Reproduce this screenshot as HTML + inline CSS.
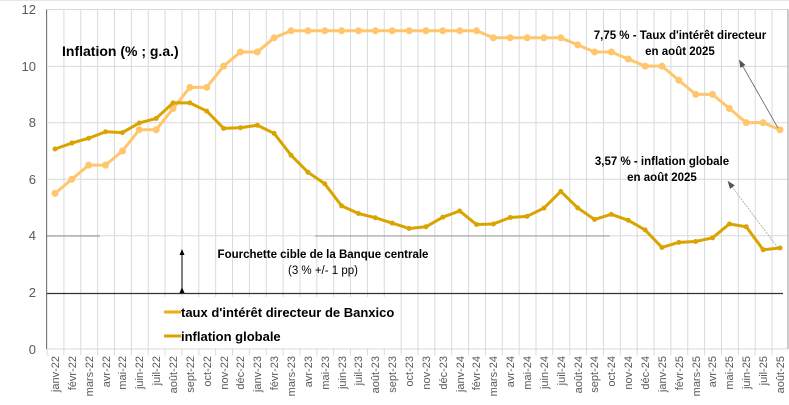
<!DOCTYPE html>
<html><head><meta charset="utf-8"><style>
html,body{margin:0;padding:0;background:#fff}
svg{display:block;font-family:"Liberation Sans",sans-serif}
</style></head><body>
<svg width="789" height="405" viewBox="0 0 789 405" xmlns="http://www.w3.org/2000/svg">
<defs>
<pattern id="vg" x="46.57" y="0" width="16.86" height="405" patternUnits="userSpaceOnUse">
<line x1="0.5" y1="0" x2="0.5" y2="405" stroke="#d9d9d9" stroke-width="1"/>
</pattern>
<marker id="ah" markerWidth="8" markerHeight="8" refX="4" refY="4" orient="auto" markerUnits="userSpaceOnUse"><path d="M0,1 L8,4 L0,7 z" fill="#555"/></marker>
<marker id="ah2" markerWidth="6" markerHeight="6" refX="3" refY="3" orient="auto" markerUnits="userSpaceOnUse"><path d="M0,0.5 L6,3 L0,5.5 z" fill="#000"/></marker>
</defs>
<rect x="0" y="0" width="789" height="405" fill="#fff"/>
<line x1="0" y1="0.5" x2="789" y2="0.5" stroke="#e6e6e6"/>
<rect x="46.5" y="9.5" width="741.5" height="346" fill="url(#vg)"/>
<g stroke="#d9d9d9" stroke-width="1">
<line x1="46.5" y1="9.5" x2="788" y2="9.5"/>
<line x1="46.5" y1="66.4" x2="788" y2="66.4"/>
<line x1="46.5" y1="122.8" x2="788" y2="122.8"/>
<line x1="46.5" y1="179.3" x2="788" y2="179.3"/>
<line x1="46.5" y1="235.8" x2="788" y2="235.8"/>
<line x1="46.5" y1="349" x2="788" y2="349"/>
</g>
<line x1="46.5" y1="236" x2="100" y2="236" stroke="#888"/>
<line x1="315" y1="236" x2="610" y2="236" stroke="#999"/>
<line x1="46.5" y1="293.5" x2="783" y2="293.5" stroke="#333" stroke-width="1.3"/>
<line x1="46.5" y1="9.5" x2="46.5" y2="349" stroke="#777"/>
<line x1="788" y1="9.5" x2="788" y2="349" stroke="#999"/>
<rect x="160" y="297" width="236" height="51" fill="#fff"/>
<g font-size="13" fill="#595959" text-anchor="end">
<text x="36" y="14">12</text><text x="36" y="71">10</text><text x="36" y="127">8</text>
<text x="36" y="184">6</text><text x="36" y="240">4</text><text x="36" y="297">2</text><text x="36" y="354">0</text>
</g>
<g transform="translate(55,349) scale(16.86,-28.29)" fill="none" stroke-linejoin="round">
<polyline vector-effect="non-scaling-stroke" stroke="#FFC66E" stroke-width="3" points="0,5.5 1,6 2,6.5 3,6.5 4,7 5,7.75 6,7.75 7,8.5 8,9.25 9,9.25 10,10 11,10.5 12,10.5 13,11 14,11.25 15,11.25 16,11.25 17,11.25 18,11.25 19,11.25 20,11.25 21,11.25 22,11.25 23,11.25 24,11.25 25,11.25 26,11 27,11 28,11 29,11 30,11 31,10.75 32,10.5 33,10.5 34,10.25 35,10 36,10 37,9.5 38,9 39,9 40,8.5 41,8 42,8 43,7.75"/>
<path vector-effect="non-scaling-stroke" stroke="#FFC66E" stroke-width="7" stroke-linecap="round" d="M0,5.5h0M1,6h0M2,6.5h0M3,6.5h0M4,7h0M5,7.75h0M6,7.75h0M7,8.5h0M8,9.25h0M9,9.25h0M10,10h0M11,10.5h0M12,10.5h0M13,11h0M14,11.25h0M15,11.25h0M16,11.25h0M17,11.25h0M18,11.25h0M19,11.25h0M20,11.25h0M21,11.25h0M22,11.25h0M23,11.25h0M24,11.25h0M25,11.25h0M26,11h0M27,11h0M28,11h0M29,11h0M30,11h0M31,10.75h0M32,10.5h0M33,10.5h0M34,10.25h0M35,10h0M36,10h0M37,9.5h0M38,9h0M39,9h0M40,8.5h0M41,8h0M42,8h0M43,7.75h0"/>
<polyline vector-effect="non-scaling-stroke" stroke="#D9A400" stroke-width="3" points="0,7.07 1,7.28 2,7.45 3,7.68 4,7.65 5,7.99 6,8.15 7,8.70 8,8.70 9,8.41 10,7.80 11,7.82 12,7.91 13,7.62 14,6.85 15,6.25 16,5.84 17,5.06 18,4.79 19,4.64 20,4.45 21,4.26 22,4.32 23,4.66 24,4.88 25,4.40 26,4.42 27,4.65 28,4.69 29,4.98 30,5.57 31,4.99 32,4.58 33,4.76 34,4.55 35,4.21 36,3.59 37,3.77 38,3.80 39,3.93 40,4.42 41,4.32 42,3.51 43,3.57"/>
<path vector-effect="non-scaling-stroke" stroke="#D9A400" stroke-width="5" stroke-linecap="round" d="M0,7.07h0M1,7.28h0M2,7.45h0M3,7.68h0M4,7.65h0M5,7.99h0M6,8.15h0M7,8.70h0M8,8.70h0M9,8.41h0M10,7.80h0M11,7.82h0M12,7.91h0M13,7.62h0M14,6.85h0M15,6.25h0M16,5.84h0M17,5.06h0M18,4.79h0M19,4.64h0M20,4.45h0M21,4.26h0M22,4.32h0M23,4.66h0M24,4.88h0M25,4.40h0M26,4.42h0M27,4.65h0M28,4.69h0M29,4.98h0M30,5.57h0M31,4.99h0M32,4.58h0M33,4.76h0M34,4.55h0M35,4.21h0M36,3.59h0M37,3.77h0M38,3.80h0M39,3.93h0M40,4.42h0M41,4.32h0M42,3.51h0M43,3.57h0"/>
</g>
<text x="62" y="56" font-size="14" font-weight="bold" fill="#000">Inflation (% ; g.a.)</text>
<g font-size="11.5" font-weight="bold" fill="#000" text-anchor="middle">
<text x="680" y="39">7,75 % - Taux d'intérêt directeur</text>
<text x="680" y="55">en août 2025</text>
<text x="662" y="165">3,57 % - inflation globale</text>
<text x="662" y="181">en août 2025</text>
<text x="323" y="258">Fourchette cible de la Banque centrale</text>
<text x="323" y="274" font-weight="normal">(3 % +/- 1 pp)</text>
</g>
<line x1="778" y1="128" x2="741" y2="63" stroke="#666" stroke-width="0.8" marker-end="url(#ah)"/>
<line x1="778" y1="248" x2="730" y2="184" stroke="#888" stroke-width="0.6" stroke-dasharray="2,1" marker-end="url(#ah)"/>
<line x1="182" y1="290" x2="182" y2="252" stroke="#000" stroke-width="1" marker-end="url(#ah2)" marker-start="url(#ah2)"/>
<line x1="164" y1="312" x2="181" y2="312" stroke="#E8B010" stroke-width="3"/>
<line x1="164" y1="336" x2="181" y2="336" stroke="#D9A400" stroke-width="3"/>
<text x="181" y="317" font-size="13" font-weight="bold" fill="#000">taux d'intérêt directeur de Banxico</text>
<text x="181" y="341" font-size="13" font-weight="bold" fill="#000">inflation globale</text>
<g font-size="11" fill="#595959" text-anchor="end">
<text transform="translate(59,356) rotate(-90)">janv-22</text>
<text transform="translate(76,356) rotate(-90)">févr-22</text>
<text transform="translate(93,356) rotate(-90)">mars-22</text>
<text transform="translate(110,356) rotate(-90)">avr-22</text>
<text transform="translate(126,356) rotate(-90)">mai-22</text>
<text transform="translate(143,356) rotate(-90)">juin-22</text>
<text transform="translate(160,356) rotate(-90)">juil-22</text>
<text transform="translate(177,356) rotate(-90)">août-22</text>
<text transform="translate(194,356) rotate(-90)">sept-22</text>
<text transform="translate(211,356) rotate(-90)">oct-22</text>
<text transform="translate(228,356) rotate(-90)">nov-22</text>
<text transform="translate(244,356) rotate(-90)">déc-22</text>
<text transform="translate(261,356) rotate(-90)">janv-23</text>
<text transform="translate(278,356) rotate(-90)">févr-23</text>
<text transform="translate(295,356) rotate(-90)">mars-23</text>
<text transform="translate(312,356) rotate(-90)">avr-23</text>
<text transform="translate(329,356) rotate(-90)">mai-23</text>
<text transform="translate(346,356) rotate(-90)">juin-23</text>
<text transform="translate(362,356) rotate(-90)">juil-23</text>
<text transform="translate(379,356) rotate(-90)">août-23</text>
<text transform="translate(396,356) rotate(-90)">sept-23</text>
<text transform="translate(413,356) rotate(-90)">oct-23</text>
<text transform="translate(430,356) rotate(-90)">nov-23</text>
<text transform="translate(447,356) rotate(-90)">déc-23</text>
<text transform="translate(464,356) rotate(-90)">janv-24</text>
<text transform="translate(480,356) rotate(-90)">févr-24</text>
<text transform="translate(497,356) rotate(-90)">mars-24</text>
<text transform="translate(514,356) rotate(-90)">avr-24</text>
<text transform="translate(531,356) rotate(-90)">mai-24</text>
<text transform="translate(548,356) rotate(-90)">juin-24</text>
<text transform="translate(565,356) rotate(-90)">juil-24</text>
<text transform="translate(582,356) rotate(-90)">août-24</text>
<text transform="translate(598,356) rotate(-90)">sept-24</text>
<text transform="translate(615,356) rotate(-90)">oct-24</text>
<text transform="translate(632,356) rotate(-90)">nov-24</text>
<text transform="translate(649,356) rotate(-90)">déc-24</text>
<text transform="translate(666,356) rotate(-90)">janv-25</text>
<text transform="translate(683,356) rotate(-90)">févr-25</text>
<text transform="translate(700,356) rotate(-90)">mars-25</text>
<text transform="translate(716,356) rotate(-90)">avr-25</text>
<text transform="translate(733,356) rotate(-90)">mai-25</text>
<text transform="translate(750,356) rotate(-90)">juin-25</text>
<text transform="translate(767,356) rotate(-90)">juil-25</text>
<text transform="translate(784,356) rotate(-90)">août-25</text>
</g>
</svg>
</body></html>
